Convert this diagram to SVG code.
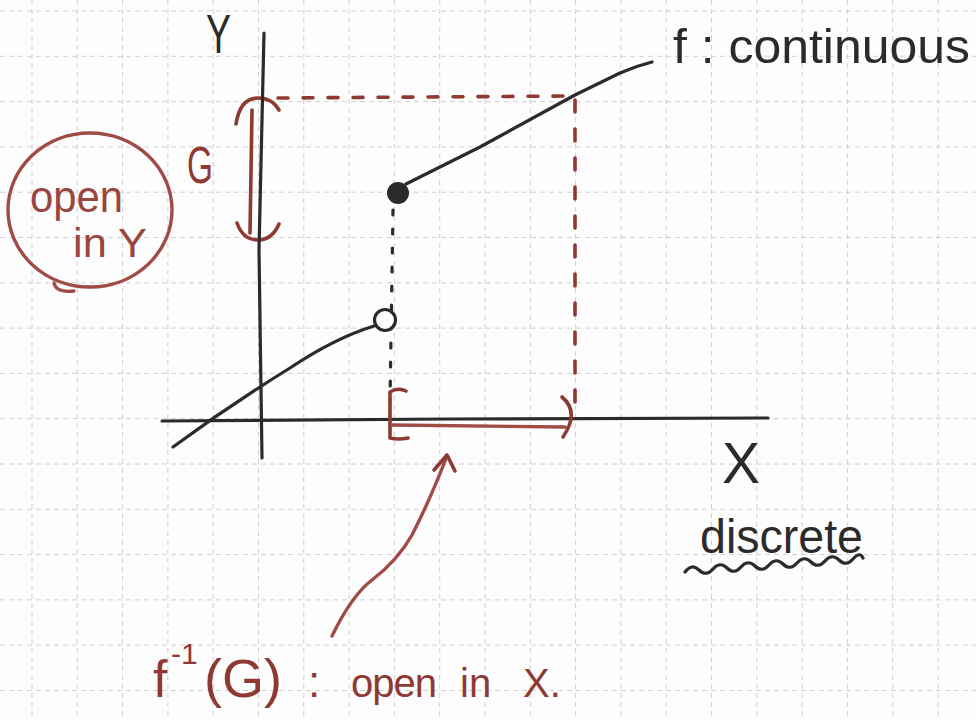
<svg xmlns="http://www.w3.org/2000/svg" width="976" height="720" viewBox="0 0 976 720">
<style>
.grid{stroke:#d0d0d0;stroke-width:1;stroke-dasharray:5 4;fill:none}
.ink{stroke:#2b2b2b;stroke-width:3.2;fill:none;stroke-linecap:round;stroke-linejoin:round}
.red{stroke:#8e3a33;stroke-width:3.6;fill:none;stroke-linecap:round;stroke-linejoin:round}
.redl{stroke:#a04b46;stroke-width:3.4;fill:none;stroke-linecap:round;stroke-linejoin:round}
.t{font-family:"Liberation Sans","DejaVu Sans",sans-serif}
.tb{fill:#2b2b2b}
.tr{fill:#8e3a33}
</style>
<rect width="976" height="720" fill="#fdfdfd"/>
<g id="grid">
<path class="grid" d="M32 0V720M77.3 0V720M122.6 0V720M167.9 0V720M213.2 0V720M258.5 0V720M303.8 0V720M349.1 0V720M394.4 0V720M439.7 0V720M485 0V720M530.3 0V720M575.6 0V720M620.9 0V720M666.2 0V720M711.5 0V720M756.8 0V720M802.1 0V720M847.4 0V720M892.7 0V720M938 0V720"/>
<path class="grid" d="M0 11H976M0 56.3H976M0 101.6H976M0 146.9H976M0 192.2H976M0 237.5H976M0 282.8H976M0 328.1H976M0 373.4H976M0 418.7H976M0 464H976M0 509.3H976M0 554.6H976M0 599.9H976M0 645.2H976M0 690.5H976"/>
</g>
<g id="set-G">
<path class="red" d="M252 110 L250 233"/>
<path class="red" d="M236 124 Q240 98 258 98 Q272 98 279 110"/>
<path class="red" d="M237 223 Q243 240 258 240 Q272 240 279 224"/>
<text class="t tr" x="187" y="183" font-size="52" textLength="26" lengthAdjust="spacingAndGlyphs">G</text>
</g>
<g id="axis-y">
<path class="ink" d="M264 33 L259 250 L262 458"/>
<text class="t tb" x="206" y="53" font-size="56" textLength="25" lengthAdjust="spacingAndGlyphs">Y</text>
</g>
<g id="axis-x">
<path class="ink" d="M162 421 L450 419 L768 418"/>
</g>
<g id="connectors">
<path class="red" stroke-dasharray="10 15" d="M278 98 L573 96"/>
<path class="red" stroke-dasharray="12 17" d="M575 100 L575 418"/>
<path class="ink" stroke-width="4" stroke-dasharray="5 14" d="M393 210 L390 400"/>
<path class="redl" d="M332 636 Q352 595 372 580 Q398 560 412 535 Q430 500 447 456"/>
<path class="red" d="M434 470 L447 455 L455 471"/>
</g>
<g id="graph-f">
<path class="ink" d="M173 447 Q230 405 290 368 Q335 338 374 326"/>
<circle cx="385" cy="320" r="10.5" fill="#fdfdfd" stroke="#2b2b2b" stroke-width="3.2"/>
<path class="ink" d="M406 184 L480 147 L575 95 L620 73 Q636 66 652 62"/>
<circle cx="398" cy="193" r="11" fill="#2b2b2b"/>
</g>
<g id="set-E">
<path class="red" d="M406 391 Q398 387 390 392 L390 438 Q398 440 408 438"/>
<path class="redl" d="M392 425 L565 427"/>
<path class="red" d="M562 397 Q580 412 563 437"/>
</g>
<g id="note-openY">
<ellipse cx="90" cy="210" rx="82" ry="77" class="redl"/>
<path class="redl" d="M54 283 Q56 293 74 291"/>
<text class="t" fill="#9a4540" x="30" y="212" font-size="44" textLength="93" lengthAdjust="spacingAndGlyphs">open</text>
<text class="t" fill="#9a4540" x="73" y="257" font-size="40" textLength="74" lengthAdjust="spacingAndGlyphs">in Y</text>
</g>
<g id="label-f-continuous">
<text class="t tb" x="673" y="63" font-size="48" textLength="297" lengthAdjust="spacingAndGlyphs">f : continuous</text>
</g>
<g id="label-X-discrete">
<text class="t tb" x="722" y="483" font-size="58" textLength="38" lengthAdjust="spacingAndGlyphs">X</text>
<text class="t tb" x="700" y="553" font-size="48" textLength="163" lengthAdjust="spacingAndGlyphs">discrete</text>
<path class="ink" d="M685 572 q7 -9 14 -2 t14 -1 t14 -1 t14 -1 t14 -1 t14 -1 t14 -1 t14 -1 t14 -1 t14 -1 t14 -1 t14 -1 t10 -1"/>
</g>
<g id="label-preimage">
<text class="t tr" y="697"><tspan x="153" font-size="52">f</tspan><tspan x="171" y="664" font-size="30">-1</tspan><tspan x="204" y="697" font-size="54">(G)</tspan><tspan x="308" font-size="44">:</tspan><tspan x="351" font-size="40" letter-spacing="-1">open</tspan><tspan x="460" font-size="40">in</tspan><tspan x="523" font-size="40">X.</tspan></text>
</g>
</svg>
